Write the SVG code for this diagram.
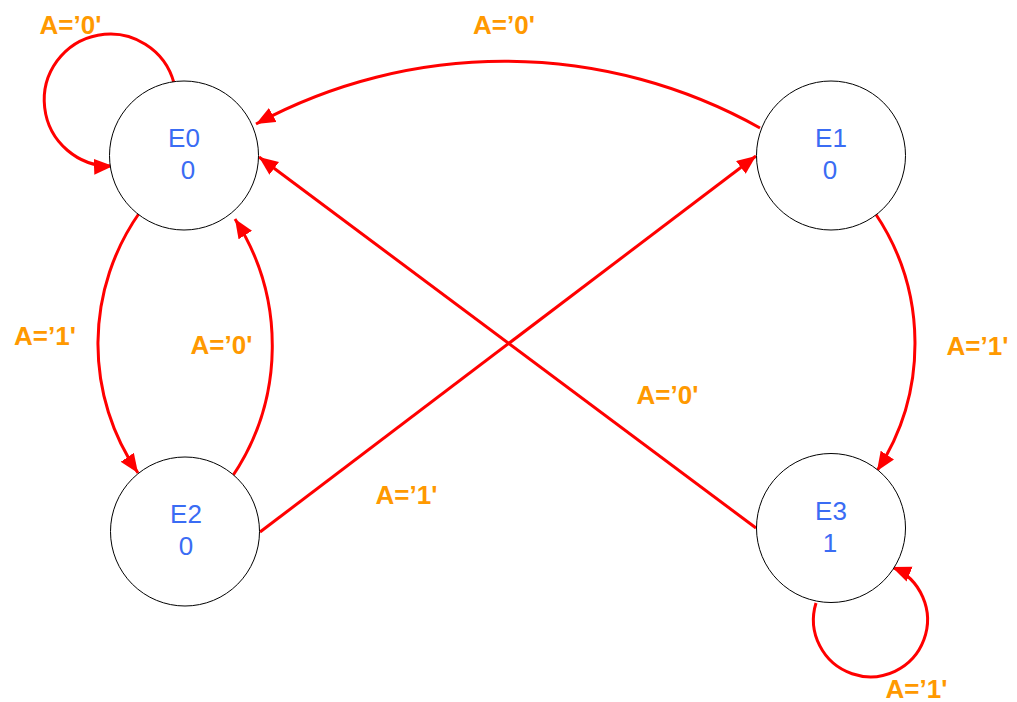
<svg xmlns="http://www.w3.org/2000/svg" width="1017" height="702" viewBox="0 0 1017 702">
  <style>
    .state { fill: #ffffff; stroke: #000000; stroke-width: 1; }
    .name { font-family: "Liberation Sans", Arial, sans-serif; font-size: 26px; fill: #3a6cf4; text-anchor: middle; }
    .edge { fill: none; stroke: #ff0000; stroke-width: 3; }
    .cond { font-family: "Liberation Sans", Arial, sans-serif; font-size: 26px; font-weight: bold; fill: #ff9900; text-anchor: middle; }
  </style>
  <defs>
    <marker id="arrow" markerUnits="userSpaceOnUse" markerWidth="20" markerHeight="17" refX="19" refY="8" orient="auto">
      <path d="M0,0 L19,8 L0,16 z" fill="#ff0000"/>
    </marker>
  </defs>

  <rect width="1017" height="702" fill="#ffffff"/>

  <!-- transitions -->
  <g id="connectors">
    <!-- E0 self loop -->
    <path class="edge" d="M174,83 A66,66 0 1 0 113,166" marker-end="url(#arrow)"/>
    <!-- E0 -> E2 -->
    <path class="edge" d="M140,212 A228,228 0 0 0 138,473" marker-end="url(#arrow)"/>
    <!-- E2 -> E0 -->
    <path class="edge" d="M232,477 A234,234 0 0 0 235,219" marker-end="url(#arrow)"/>
    <!-- E1 -> E0 -->
    <path class="edge" d="M760,128 A523,523 0 0 0 256,124" marker-end="url(#arrow)"/>
    <!-- E1 -> E3 -->
    <path class="edge" d="M875,213 A233,233 0 0 1 877,471" marker-end="url(#arrow)"/>
    <!-- E2 -> E1 -->
    <path class="edge" d="M260,532 L756,156" marker-end="url(#arrow)"/>
    <!-- E3 -> E0 -->
    <path class="edge" d="M756,528 L259,157" marker-end="url(#arrow)"/>
    <!-- E3 self loop -->
    <path class="edge" d="M816,603 A57,57 0 1 0 892,567" marker-end="url(#arrow)"/>
  </g>

  <!-- transition conditions -->
  <g id="conditions">
    <text class="cond" x="70.5" y="34">A=’0'</text>
    <text class="cond" x="504" y="34">A=’0'</text>
    <text class="cond" x="45" y="345">A=’1'</text>
    <text class="cond" x="221.5" y="354">A=’0'</text>
    <text class="cond" x="406.5" y="504">A=’1'</text>
    <text class="cond" x="667.5" y="404">A=’0'</text>
    <text class="cond" x="977.5" y="355">A=’1'</text>
    <text class="cond" x="916.5" y="698">A=’1'</text>
  </g>

  <!-- states -->
  <g id="E0">
    <circle class="state" cx="184" cy="155.5" r="74.5"/>
    <text class="name" x="184" y="147">E0</text>
    <text class="name" x="188" y="179">0</text>
  </g>
  <g id="E1">
    <circle class="state" cx="831" cy="155.5" r="74.5"/>
    <text class="name" x="831" y="147">E1</text>
    <text class="name" x="830" y="179">0</text>
  </g>
  <g id="E2">
    <circle class="state" cx="185" cy="531.5" r="74.5"/>
    <text class="name" x="186" y="523">E2</text>
    <text class="name" x="186" y="555">0</text>
  </g>
  <g id="E3">
    <circle class="state" cx="831" cy="528" r="74.5"/>
    <text class="name" x="831" y="519.5">E3</text>
    <text class="name" x="830" y="552">1</text>
  </g>
</svg>
